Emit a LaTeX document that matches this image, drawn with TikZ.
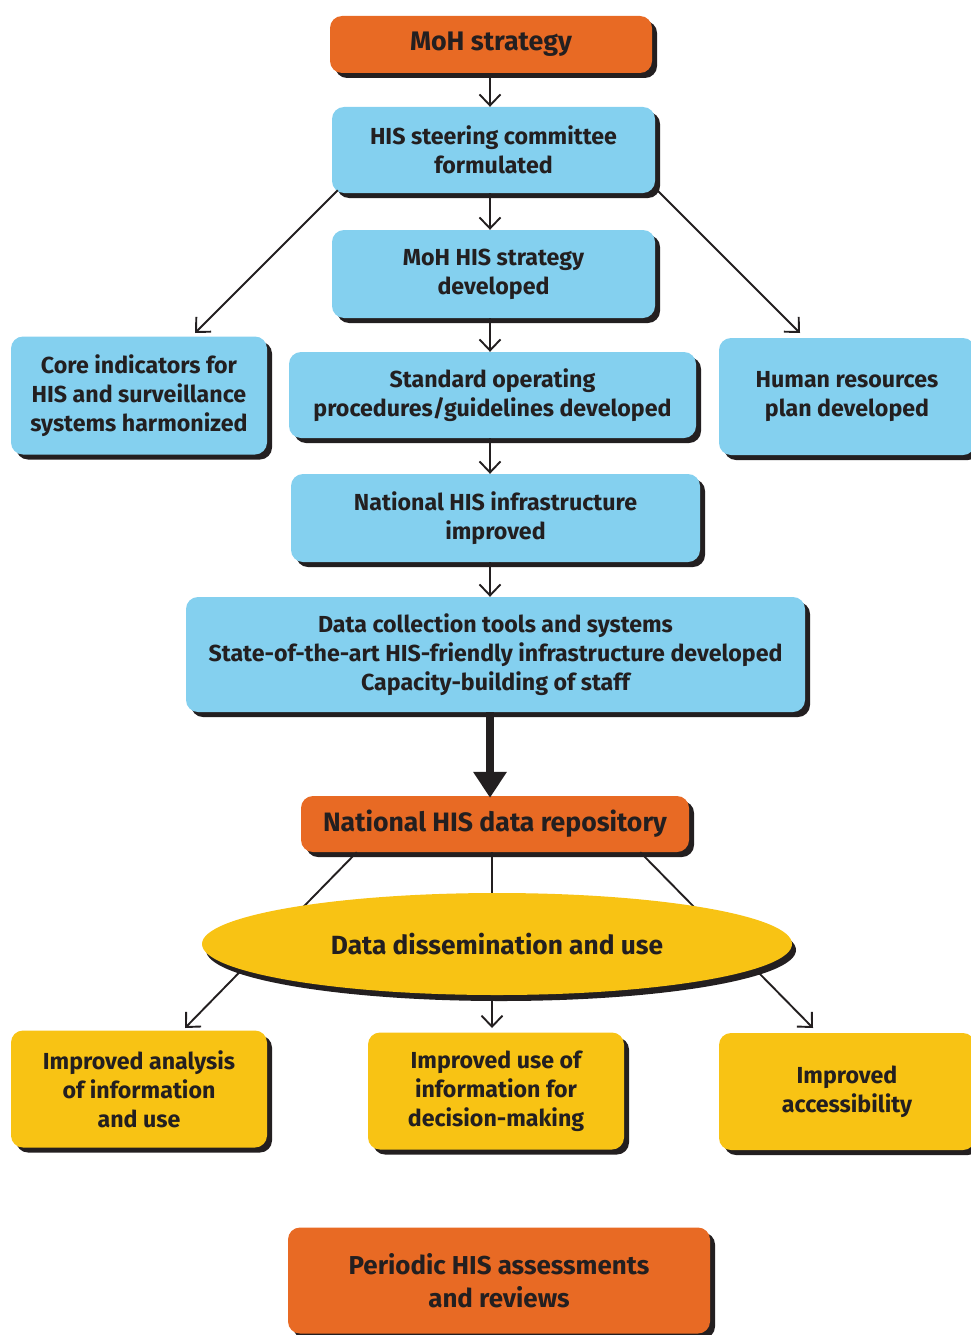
\documentclass[tikz,border=0pt]{standalone}
\usepackage{fontspec}
\setmainfont{Fira Sans}
\usetikzlibrary{arrows.meta,shadows,shapes.geometric}
\definecolor{hisorange}{HTML}{E86A24}
\definecolor{hisblue}{HTML}{84D0EF}
\definecolor{hisyellow}{HTML}{F8C314}
\definecolor{histext}{HTML}{231F20}
\tikzset{
  card/.style={rounded corners=12pt, inner sep=0pt, align=center,
    text=histext, font=\fontsize{23.2}{29}\selectfont\bfseries,
    drop shadow={shadow xshift=5pt, shadow yshift=-5pt, fill=histext, opacity=1}},
  bluecard/.style={card, fill=hisblue},
  orangecard/.style={card, fill=hisorange},
  yellowcard/.style={card, fill=hisyellow},
  arr/.style={draw=histext, line width=1.9pt, -{Straight Barb[length=11pt,width=21pt,line width=1.9pt]}},
  bigarr/.style={draw=histext, line width=8pt, -{Triangle[length=26pt,width=32pt]}}
}
\begin{document}
\begin{tikzpicture}[x=1pt,y=-1pt]
\useasboundingbox (0,0) rectangle (971,1335);

% top-level chain
\node[orangecard, minimum width=322pt, minimum height=57pt, font=\fontsize{26.8}{30}\selectfont\bfseries]
  (moh) at (491,44.5) {MoH strategy};
\node[bluecard, minimum width=323pt, minimum height=86pt]
  (steer) at (493.5,150) {HIS steering committee\\formulated};
\node[bluecard, minimum width=323pt, minimum height=88pt]
  (strat) at (493.5,274) {MoH HIS strategy\\developed};
\node[bluecard, minimum width=256pt, minimum height=118pt]
  (core) at (139,395.5) {Core indicators for\\HIS and surveillance\\systems harmonized};
\node[bluecard, minimum width=407pt, minimum height=86pt]
  (sop) at (492.5,395) {Standard operating\\procedures/guidelines developed};
\node[bluecard, minimum width=256pt, minimum height=117pt]
  (hr) at (847,396.5) {Human resources\\plan developed};
\node[bluecard, minimum width=409pt, minimum height=88pt]
  (infra) at (495.5,518) {National HIS infrastructure\\improved};
\node[bluecard, minimum width=619pt, minimum height=115pt]
  (data) at (495.5,654.5) {Data collection tools and systems\\State-of-the-art HIS-friendly infrastructure developed\\Capacity-building of staff};
\node[orangecard, minimum width=388pt, minimum height=56pt, font=\fontsize{26.6}{30}\selectfont\bfseries]
  (repo) at (495,824) {National HIS data repository};

% outcome boxes
\node[yellowcard, minimum width=256pt, minimum height=117pt]
  (anal) at (139,1089) {Improved analysis\\of information\\and use};
\node[yellowcard, minimum width=256pt, minimum height=117pt]
  (use) at (496,1091) {Improved use of\\information for\\decision-making};
\node[yellowcard, minimum width=256pt, minimum height=117pt]
  (acc) at (847,1091.5) {Improved\\accessibility};
\node[orangecard, minimum width=422pt, minimum height=106pt, font=\fontsize{25.9}{33}\selectfont\bfseries]
  (per) at (499,1280.5) {Periodic HIS assessments\\and reviews};

% connectors of the upper chain
\draw[arr] (moh.south -| 490,0) -- (steer.north -| 490,0);
\draw[arr] (steer.south -| 490,0) -- (strat.north -| 490,0);
\draw[arr] (strat.south -| 490,0) -- (sop.north -| 490,0);
\draw[arr] (sop.south -| 490,0) -- (infra.north -| 490,0);
\draw[arr] (infra.south -| 490,0) -- (data.north -| 490,0);
\coordinate (coreTip) at (195,333);
\coordinate (hrTip) at (800,333);
\draw[arr] ([shift={(6,-3)}]steer.south west) -- (coreTip);
\draw[arr] ([shift={(2,-3)}]steer.south east) -- (hrTip);
\draw[bigarr] (data.south -| 490,0) -- ([yshift=-2pt]repo.north -| 490,0);

% repository fans out behind the dissemination ellipse
\coordinate (analTip) at (185,1028);
\coordinate (useTip) at (492,1028);
\coordinate (accTip) at (813,1028);
\draw[arr] ([xshift=56pt]repo.south west) -- (analTip);
\draw[arr] (repo.south -| 492,0) -- (useTip);
\draw[arr] ([xshift=-49pt]repo.south east) -- (accTip);

\node[ellipse, fill=hisyellow, minimum width=590pt, minimum height=102pt, inner sep=0pt,
  text=histext, font=\fontsize{26.3}{30}\selectfont\bfseries,
  drop shadow={shadow xshift=4pt, shadow yshift=-6pt, fill=histext, opacity=1}]
  (diss) at (497,944) {Data dissemination and use};
\end{tikzpicture}
\end{document}
